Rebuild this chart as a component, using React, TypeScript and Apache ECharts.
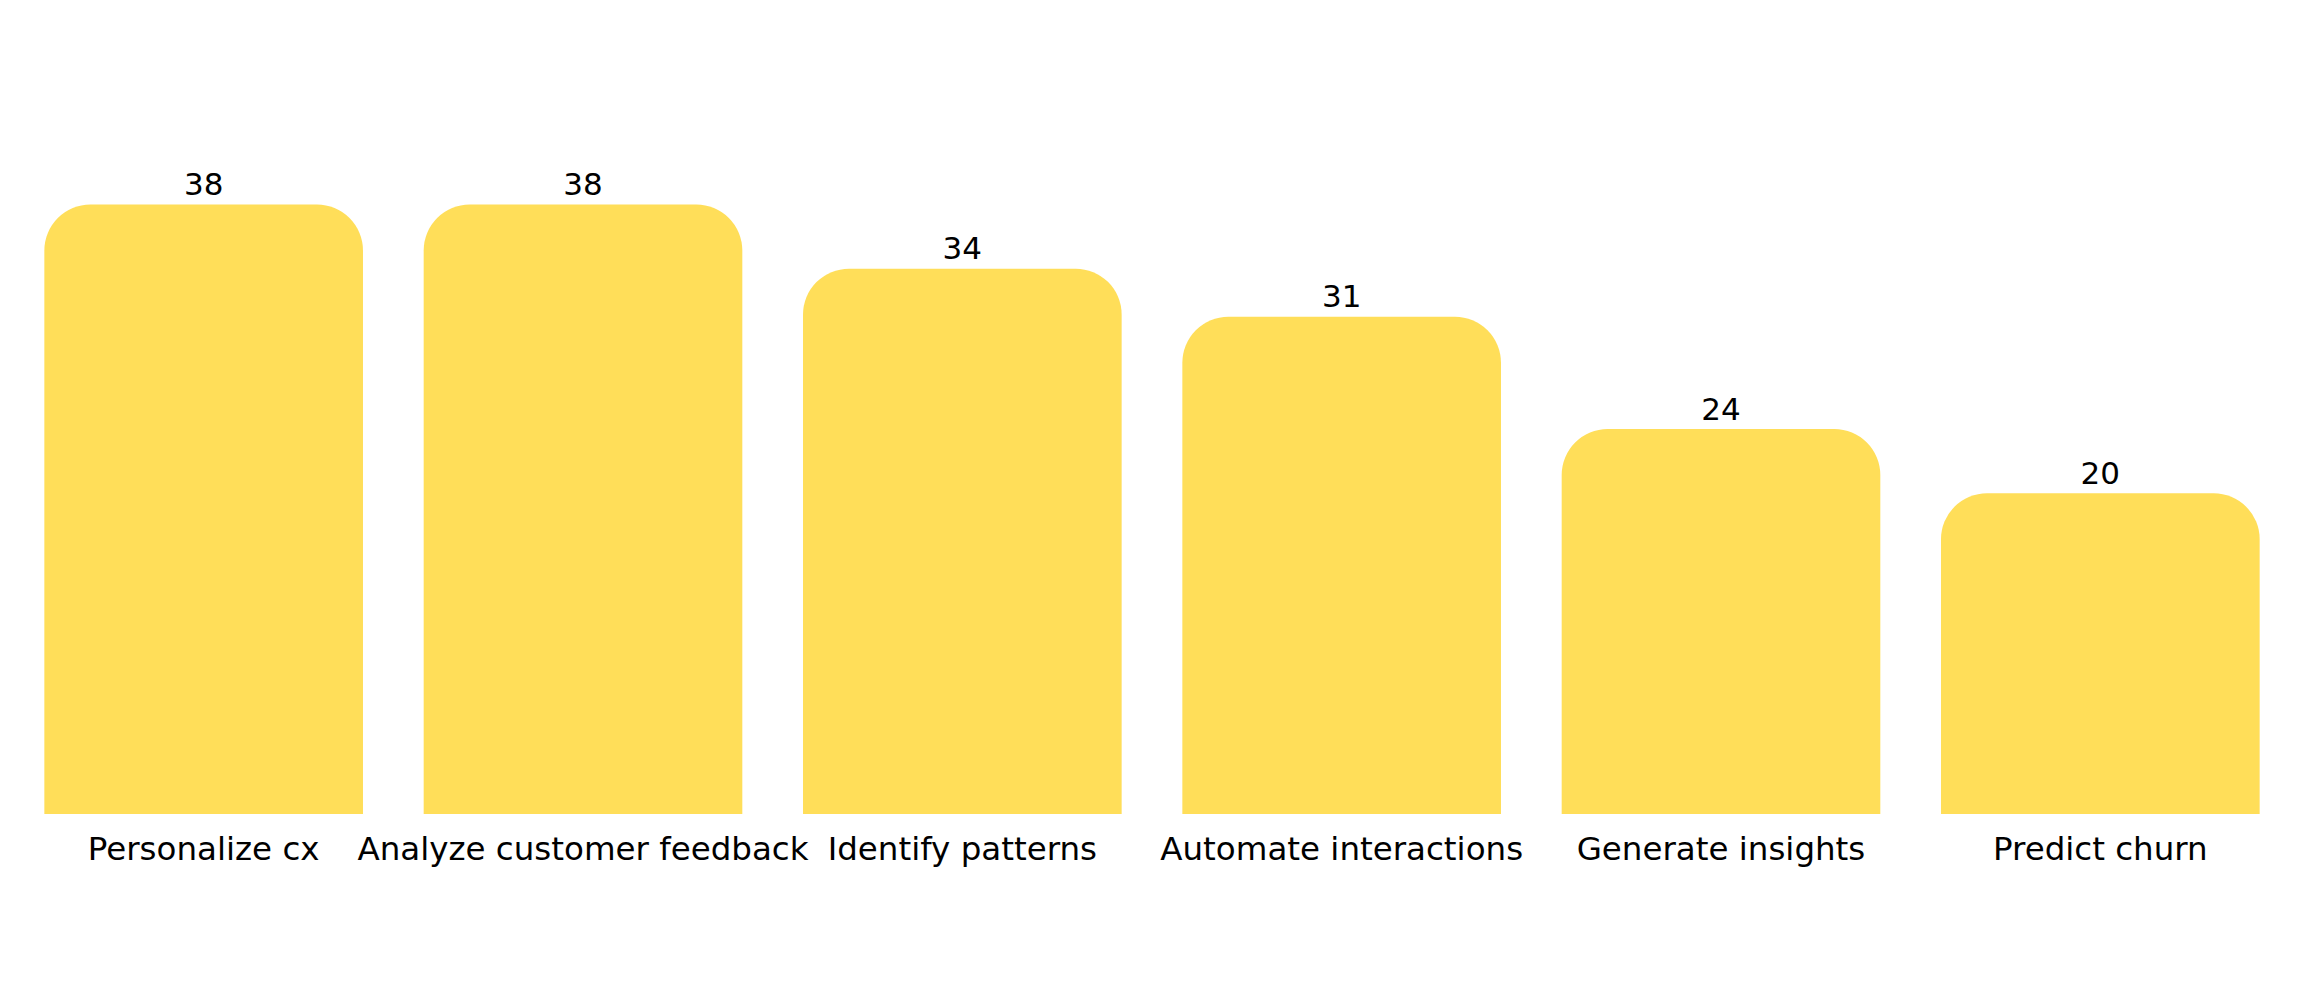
import React, { useEffect, useRef } from "react";
import * as echarts from "echarts";

const categories = [
  "Personalize cx",
  "Analyze customer feedback",
  "Identify patterns",
  "Automate interactions",
  "Generate insights",
  "Predict churn",
];
const values = [38, 38, 34, 31, 24, 20];

export default function App() {
  const ref = useRef<HTMLDivElement>(null);
  useEffect(() => {
    if (!ref.current) return;
    const chart = echarts.init(ref.current, undefined, { renderer: "svg" });
    chart.setOption({
      animation: false,
      backgroundColor: "#ffffff",
      grid: { left: 14, right: 26, top: 12, bottom: 178 },
      xAxis: {
        type: "category",
        data: categories,
        axisLine: { show: false },
        axisTick: { show: false },
        axisLabel: {
          color: "#000000",
          fontFamily: "DejaVu Sans",
          fontSize: 32.5,
          margin: 18,
          interval: 0,
        },
      },
      yAxis: {
        type: "value",
        min: 0,
        max: 50,
        show: false,
        splitLine: { show: false },
      },
      series: [
        {
          type: "bar",
          data: values,
          barCategoryGap: "16%",
          itemStyle: { color: "#FFDE59", borderRadius: [46, 46, 0, 0] },
          label: {
            show: true,
            position: "top",
            distance: 5,
            color: "#000000",
            fontFamily: "DejaVu Sans",
            fontSize: 31,
          },
        },
      ],
    });
    return () => chart.dispose();
  }, []);
  return (
    <div
      ref={ref}
      style={{ position: "absolute", left: 0, top: 0, width: 2316, height: 992 }}
    />
  );
}
